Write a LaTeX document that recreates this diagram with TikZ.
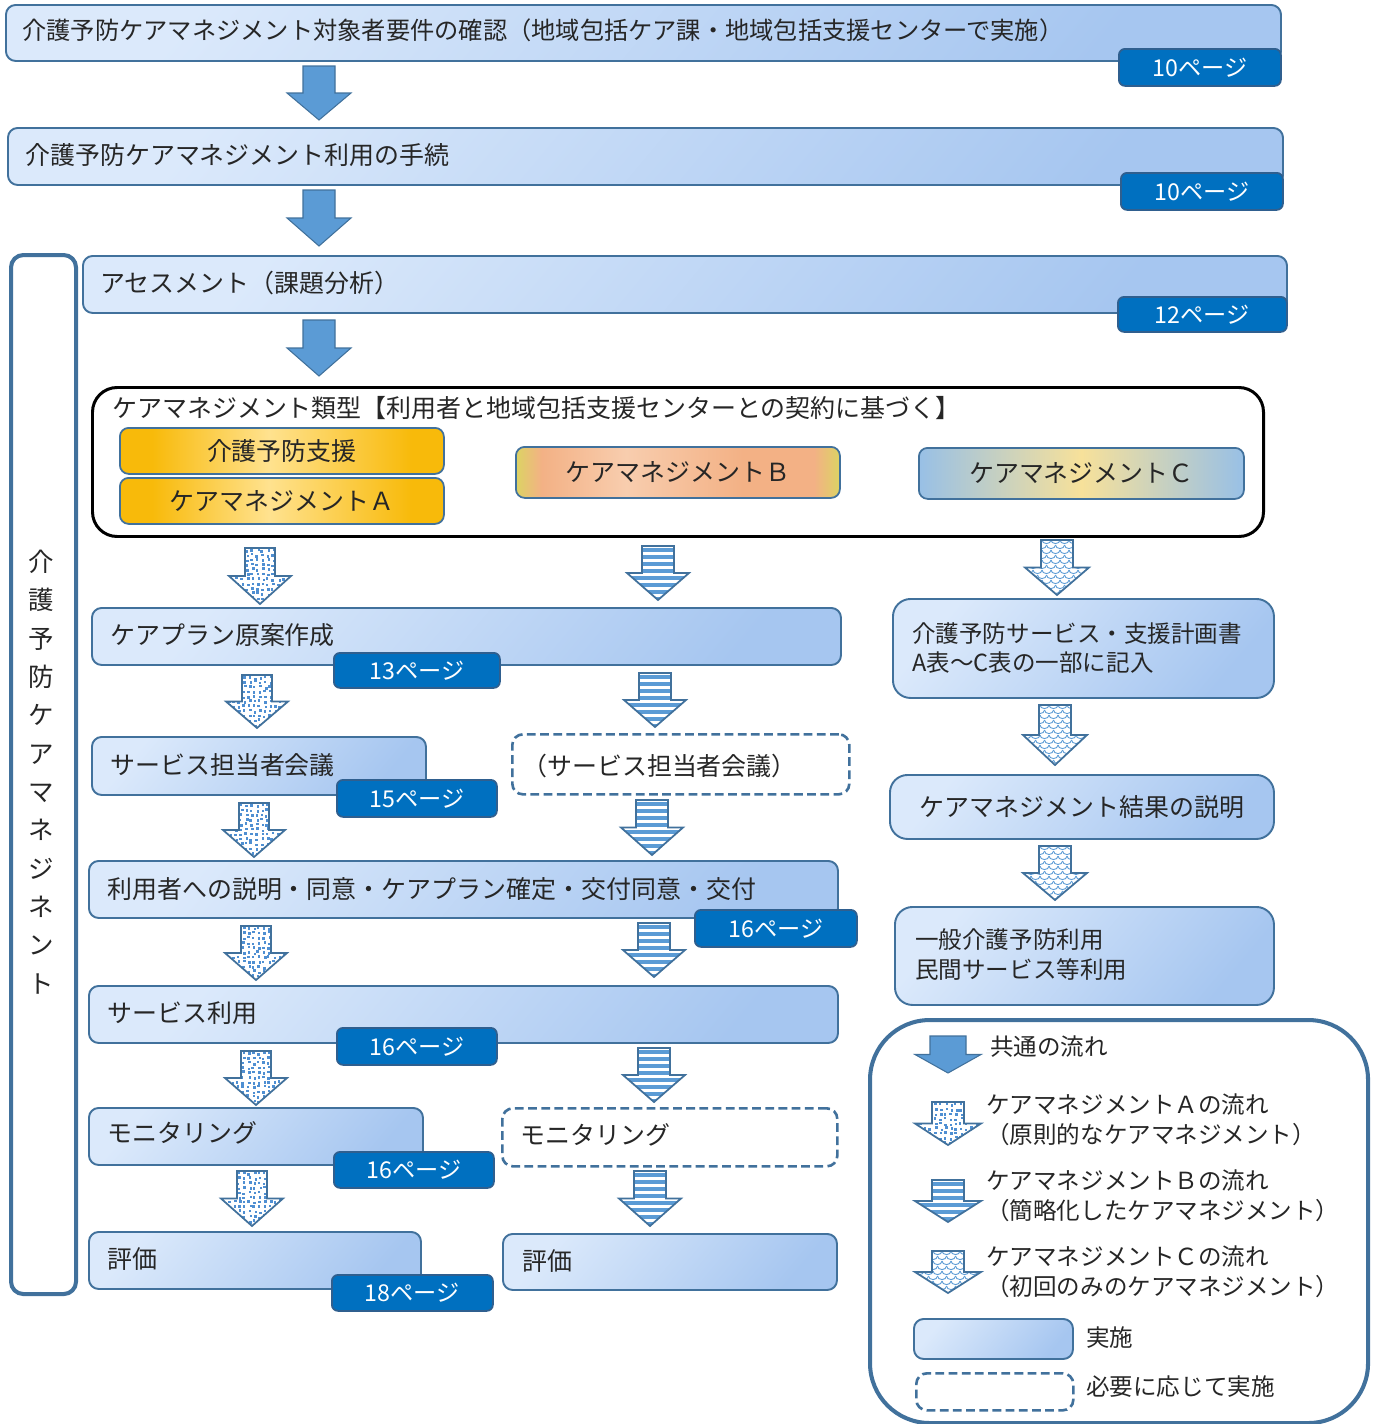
\documentclass[tikz,border=0pt]{standalone}
\usepackage{fontspec}
\setmainfont{Noto Sans CJK JP}
\definecolor{bxlight}{HTML}{DBE9FB}
\definecolor{bxdark}{HTML}{A6C6F0}
\definecolor{bxline}{HTML}{41719C}
\definecolor{pgblue}{HTML}{0070C0}
\definecolor{pgline}{HTML}{2F5F8F}
\definecolor{arrblue}{HTML}{5B9BD5}
\definecolor{dotblue}{HTML}{4F8FD2}
\definecolor{txtc}{HTML}{262626}
\definecolor{goldE}{HTML}{F8BA0A}
\definecolor{goldC}{HTML}{FFE28F}
\definecolor{bYl}{HTML}{DCD363}
\definecolor{bOr}{HTML}{F3B185}
\definecolor{bLt}{HTML}{F8CDAE}
\definecolor{cBl}{HTML}{98C0E6}
\definecolor{cYl}{HTML}{F7E19A}

\pgfdeclarehorizontalshading{boxsh}{100bp}{color(0bp)=(bxlight); color(25bp)=(bxlight); color(75bp)=(bxdark); color(100bp)=(bxdark)}
\pgfdeclarehorizontalshading{goldsh}{100bp}{color(0bp)=(goldE); color(25bp)=(goldE); color(30bp)=(goldE); color(48bp)=(goldC); color(70bp)=(goldE); color(75bp)=(goldE); color(100bp)=(goldE)}
\pgfdeclarehorizontalshading{bsh}{100bp}{color(0bp)=(bYl); color(25bp)=(bYl); color(29bp)=(bOr); color(42bp)=(bLt); color(60bp)=(bOr); color(71bp)=(bOr); color(75bp)=(bYl); color(100bp)=(bYl)}
\pgfdeclarehorizontalshading{csh}{100bp}{color(0bp)=(cBl); color(25bp)=(cBl); color(50bp)=(cYl); color(75bp)=(cBl); color(100bp)=(cBl)}

\tikzset{
  flowbox/.style={draw=bxline, line width=1.1pt, rounded corners=5.5pt, shade, shading=boxsh, shading angle=-40, inner sep=0pt},
  roundbox/.style={flowbox, rounded corners=10pt},
  needbox/.style={draw=bxline, line width=1.5pt, dash pattern=on 5pt off 2.5pt, rounded corners=6pt, fill=white, inner sep=0pt},
  typebox/.style={draw=bxline, line width=1pt, rounded corners=5pt, shade, inner sep=0pt},
  pagebox/.style={draw=pgline, line width=1pt, fill=pgblue, rounded corners=3.5pt, inner sep=0pt, text=white, font=\fontsize{13.2}{15}\selectfont},
  txt/.style={anchor=west, inner sep=0pt, text=txtc, font=\fontsize{14.2}{17}\selectfont},
  ctxt/.style={txt, anchor=center},
  stxt/.style={txt, font=\fontsize{13.4}{17}\selectfont},
  mtxt/.style={stxt, align=left},
  solidarr/.style={fill=arrblue, draw=bxline, line width=0.6pt},
  patline/.style={draw=bxline, line width=1pt, line join=miter},
  scaleline/.style={draw=arrblue, line width=0.5pt},
}

% box node from its top-left and bottom-right corners (pixel grid)
\newcommand\flowrect[6]{%
  \pgfmathsetmacro\rw{(#4-#2)*0.02}%
  \pgfmathsetmacro\rh{(#5-#3)*0.02}%
  \node[#6, anchor=north west, minimum width=\rw cm, minimum height=\rh cm] (#1) at (#2,#3) {};}
\newcommand\pagetag[6]{%
  \pgfmathsetmacro\rw{(#4-#2)*0.02}%
  \pgfmathsetmacro\rh{(#5-#3)*0.02}%
  \node[pagebox, anchor=north west, minimum width=\rw cm, minimum height=\rh cm] (#1) at (#2,#3) {#6};}

% block arrow outline: centre x, top, tip, shaft half width, head half width
\newcommand\arrowpath[5]{(#1-#4,#2) -- (#1+#4,#2) -- (#1+#4,{#2+0.5*(#3-#2)}) -- (#1+#5,{#2+0.5*(#3-#2)}) -- (#1,#3) -- (#1-#5,{#2+0.5*(#3-#2)}) -- (#1-#4,{#2+0.5*(#3-#2)}) -- cycle}
\newcommand\solidarrow[5]{\draw[solidarr] \arrowpath{#1}{#2}{#3}{#4}{#5};}

% fills for the three flow types
\newcommand\dotfillA[3]{%
  \foreach \i in {0,...,14} \foreach \j in {0,...,12} {%
    \fill[dotblue] ({#1-36+\i*5.2+2.6*rnd},{#2+\j*4.8+2.6*rnd}) rectangle ++(2.5,2.5);}}
\newcommand\stripefillB[3]{%
  \foreach \j in {0,...,8} {\fill[arrblue] (#1-36,{#2+2+\j*7}) rectangle (#1+36,{#2+5.6+\j*7});}}
\newcommand\scalefillC[3]{%
  \foreach \j in {0,...,12} \foreach \i in {0,...,9} {%
    \draw[scaleline] ({#1-42+\i*9+mod(\j,2)*4.5},{#2+\j*5}) arc (180:0:4.5 and 3.6);}}

\newcommand\patarrow[6]{%
  \begin{scope}
    \clip \arrowpath{#1}{#2}{#3}{#4}{#5};
    \fill[white] \arrowpath{#1}{#2}{#3}{#4}{#5};
    \csname #6\endcsname{#1}{#2}{#3}
  \end{scope}
  \draw[patline] \arrowpath{#1}{#2}{#3}{#4}{#5};}

\begin{document}
\begin{tikzpicture}[x=0.02cm, y=-0.02cm]
\useasboundingbox (0,0) rectangle (1376,1424);
\clip (0,0) rectangle (1376,1424);
\pgfmathsetseed{17}

% ---- common steps ----
\flowrect{s1}{5}{4}{1280}{60}{flowbox}
\node[txt, font=\fontsize{13.8}{17}\selectfont] (s1t) at (22,30) {介護予防ケアマネジメント対象者要件の確認（地域包括ケア課・地域包括支援センターで実施）};
\pagetag{p1}{1118}{48}{1280}{85}{10ページ}
\solidarrow{319}{66}{120}{16}{32}

\flowrect{s2}{7}{127}{1282}{184}{flowbox}
\node[txt] (s2t) at (25,155) {介護予防ケアマネジメント利用の手続};
\pagetag{p2}{1120}{172}{1282}{209}{10ページ}
\solidarrow{319}{190}{246}{16}{32}

% ---- side bracket ----
\flowrect{side}{9}{253}{74}{1292}{draw=bxline, line width=2.3pt, rounded corners=7pt, fill=white, inner sep=0pt}
\node[inner sep=0pt, align=center, text=txtc, font=\fontsize{14.5}{21.8}\selectfont] (sidet) at (41,772)
  {介\\護\\予\\防\\ケ\\ア\\マ\\ネ\\ジ\\ネ\\ン\\ト};

\flowrect{s3}{82}{255}{1286}{312}{flowbox}
\node[txt] (s3t) at (100,283) {アセスメント（課題分析）};
\pagetag{p3}{1117}{296}{1286}{331}{12ページ}
\solidarrow{319}{320}{376}{16}{32}

% ---- care management types ----
\flowrect{types}{91}{386}{1262}{535}{draw=black, line width=1.7pt, rounded corners=14pt, fill=white, inner sep=0pt}
\node[txt] (typest) at (112,408) {ケアマネジメント類型【利用者と地域包括支援センターとの契約に基づく】};
\flowrect{ga}{119}{427}{443}{473}{typebox, shading=goldsh}
\node[ctxt] (gat) at (ga.center) {介護予防支援};
\flowrect{gb}{119}{477}{443}{523}{typebox, shading=goldsh}
\node[ctxt] (gbt) at (gb.center) {ケアマネジメントＡ};
\flowrect{tb}{515}{446}{839}{497}{typebox, shading=bsh}
\node[ctxt] (tbt) at (tb.center) {ケアマネジメントＢ};
\flowrect{tc}{918}{447}{1243}{498}{typebox, shading=csh}
\node[ctxt] (tct) at (tc.center) {ケアマネジメントＣ};

% ---- flow A / B boxes ----
\flowrect{a1}{91}{607}{840}{664}{flowbox}
\node[txt] (a1t) at (110,635) {ケアプラン原案作成};
\pagetag{p4}{333}{652}{499}{687}{13ページ}

\flowrect{a2}{91}{736}{425}{794}{flowbox}
\node[txt] (a2t) at (110,765) {サービス担当者会議};
\pagetag{p5}{336}{779}{496}{816}{15ページ}
\flowrect{b2}{511}{733}{848}{793}{needbox}
\node[txt] (b2t) at (522,766) {（サービス担当者会議）};

\flowrect{a3}{88}{860}{837}{917}{flowbox}
\node[txt] (a3t) at (107,889) {利用者への説明・同意・ケアプラン確定・交付同意・交付};
\pagetag{p6}{694}{909}{856}{946}{16ページ}

\flowrect{a4}{88}{985}{837}{1042}{flowbox}
\node[txt] (a4t) at (107,1013) {サービス利用};
\pagetag{p7}{336}{1027}{496}{1064}{16ページ}

\flowrect{a5}{88}{1107}{422}{1164}{flowbox}
\node[txt] (a5t) at (107,1133) {モニタリング};
\pagetag{p8}{333}{1151}{493}{1187}{16ページ}
\flowrect{b5}{501}{1107}{836}{1165}{needbox}
\node[txt] (b5t) at (520,1135) {モニタリング};

\flowrect{a6}{88}{1231}{420}{1288}{flowbox}
\node[txt] (a6t) at (107,1259) {評価};
\pagetag{p9}{331}{1274}{492}{1310}{18ページ}
\flowrect{b6}{502}{1233}{836}{1289}{flowbox}
\node[txt] (b6t) at (522,1261) {評価};

% ---- flow C boxes ----
\flowrect{c1}{892}{598}{1273}{697}{roundbox}
\node[mtxt] (c1t) at (912,648) {介護予防サービス・支援計画書\\A表～C表の一部に記入};
\flowrect{c2}{889}{774}{1273}{838}{roundbox}
\node[ctxt] (c2t) at (c2.center) {ケアマネジメント結果の説明};
\flowrect{c3}{894}{906}{1273}{1004}{roundbox}
\node[mtxt] (c3t) at (915,955) {一般介護予防利用\\民間サービス等利用};

% ---- flow arrows ----
\patarrow{260}{548}{604}{15}{31}{dotfillA}
\patarrow{257}{675}{728}{15}{31}{dotfillA}
\patarrow{254}{803}{857}{15}{31}{dotfillA}
\patarrow{256}{926}{980}{15}{31}{dotfillA}
\patarrow{256}{1051}{1105}{15}{31}{dotfillA}
\patarrow{252}{1171}{1226}{15}{31}{dotfillA}

\patarrow{658}{546}{600}{16}{31}{stripefillB}
\patarrow{655}{673}{727}{16}{31}{stripefillB}
\patarrow{652}{800}{855}{16}{31}{stripefillB}
\patarrow{654}{923}{977}{16}{31}{stripefillB}
\patarrow{654}{1048}{1102}{16}{31}{stripefillB}
\patarrow{650}{1171}{1226}{16}{31}{stripefillB}

\patarrow{1057}{540}{595}{16}{32}{scalefillC}
\patarrow{1055}{705}{765}{16}{32}{scalefillC}
\patarrow{1055}{846}{900}{16}{32}{scalefillC}

% ---- legend ----
\flowrect{leg}{868}{1018}{1366}{1421}{draw=bxline, line width=2.3pt, rounded corners=34pt, fill=white, inner sep=0pt}
\solidarrow{948}{1036}{1073}{18}{33}
\node[stxt] (l1) at (990,1047) {共通の流れ};
\patarrow{948}{1102}{1145}{16}{33}{dotfillA}
\node[mtxt] (l2) at (986,1120) {ケアマネジメントＡの流れ\\（原則的なケアマネジメント）};
\patarrow{948}{1180}{1222}{16}{33}{stripefillB}
\node[mtxt] (l3) at (986,1196) {ケアマネジメントＢの流れ\\（簡略化したケアマネジメント）};
\patarrow{948}{1251}{1293}{16}{33}{scalefillC}
\node[mtxt] (l4) at (986,1272) {ケアマネジメントＣの流れ\\（初回のみのケアマネジメント）};
\flowrect{lg1}{913}{1318}{1072}{1358}{flowbox}
\node[stxt] (l5) at (1086,1338) {実施};
\flowrect{lg2}{915}{1372}{1072}{1409}{needbox}
\node[stxt] (l6) at (1086,1387) {必要に応じて実施};
\end{tikzpicture}
\end{document}
